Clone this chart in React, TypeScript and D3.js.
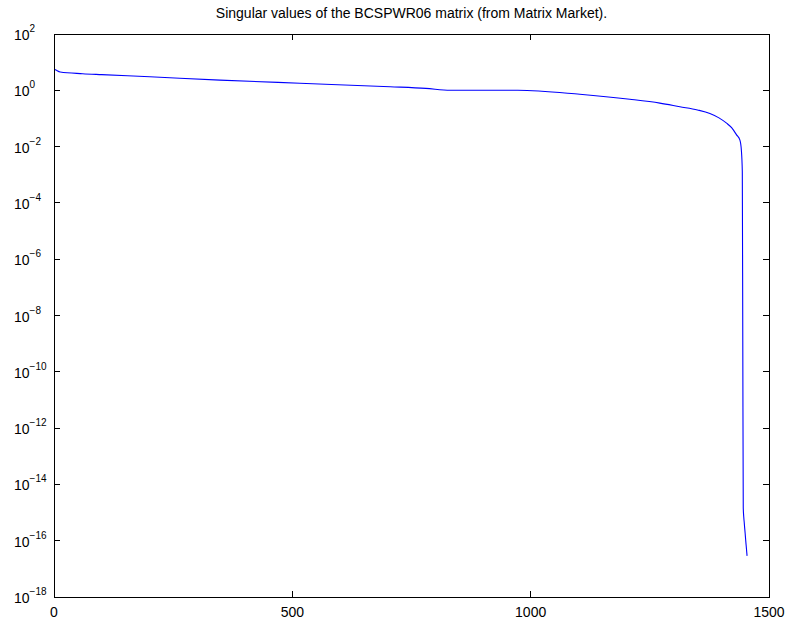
import React from "react";
import * as d3 from "d3";

const indices = [1, 4, 13, 60, 100, 201, 348, 516, 705, 780, 831, 973, 1103, 1208, 1271, 1313, 1350, 1376, 1395, 1411, 1422, 1432, 1439, 1442, 1444, 1445, 1446, 1447, 1448, 1449, 1450, 1451, 1452, 1453, 1454];
const singularValues = [5.56, 5.25, 4.47, 3.89, 3.6, 3.02, 2.3, 1.78, 1.34, 1.17, 1.0, 1.0, 0.72, 0.48, 0.35, 0.26, 0.2, 0.15, 0.105, 0.068, 0.046, 0.026, 0.017, 0.0076, 0.0013, 1.3e-9, 1.45e-15, 7.1e-16, 4.5e-16, 2.8e-16, 1.8e-16, 1.1e-16, 7e-17, 4.5e-17, 2.9e-17];
const xTicks = [0, 500, 1000, 1500];
const yTickExponents = [2, 0, -2, -4, -6, -8, -10, -12, -14, -16, -18];
const title = "Singular values of the BCSPWR06 matrix (from Matrix Market).";

const W = 789, H = 620;
const L = 54, R = 769, T = 34, B = 597;
const FONT = "'Liberation Sans', Arial, Helvetica, sans-serif";

export default function App() {
  const x = d3.scaleLinear().domain([0, 1500]).range([L, R]);
  const y = d3.scaleLog().domain([1e-18, 1e2]).range([B, T]);
  const data = indices.map((n, i) => [n, singularValues[i]] as [number, number]);
  const line = d3.line<[number, number]>().x(d => x(d[0])).y(d => y(d[1])).curve(d3.curveMonotoneX);
  const tl = 6;
  return (
    <svg width={W} height={H} style={{ position: "absolute", left: 0, top: 0, background: "#fff" }} fontFamily={FONT}>
      <rect x={0} y={0} width={W} height={H} fill="#fff" />
      <path d={line(data) || ""} fill="none" stroke="#0000ff" strokeWidth={1.1} />
      <g stroke="#000" strokeWidth={1} shapeRendering="crispEdges">
        {xTicks.map(t => (
          <g key={"x" + t}>
            <line x1={x(t)} x2={x(t)} y1={B} y2={B - tl} />
            <line x1={x(t)} x2={x(t)} y1={T} y2={T + tl} />
          </g>
        ))}
        {yTickExponents.map(e => (
          <g key={"y" + e}>
            <line x1={L} x2={L + tl} y1={y(Math.pow(10, e))} y2={y(Math.pow(10, e))} />
            <line x1={R} x2={R - tl} y1={y(Math.pow(10, e))} y2={y(Math.pow(10, e))} />
          </g>
        ))}
        <rect x={L} y={T} width={R - L} height={B - T} fill="none" />
      </g>
      {xTicks.map(t => (
        <text key={"xl" + t} x={x(t)} y={B + 20} fontSize={14} textAnchor="middle" fill="#000">{t}</text>
      ))}
      {yTickExponents.map(e => (
        <text key={"yl" + e} x={14} y={y(Math.pow(10, e)) + 6} fontSize={14} fill="#000">
          10<tspan dy={-8} fontSize={10}>{e < 0 ? "\u2212" + Math.abs(e) : e}</tspan>
        </text>
      ))}
      <text x={(L + R) / 2} y={18} fontSize={14} textAnchor="middle" fill="#000">{title}</text>
    </svg>
  );
}
